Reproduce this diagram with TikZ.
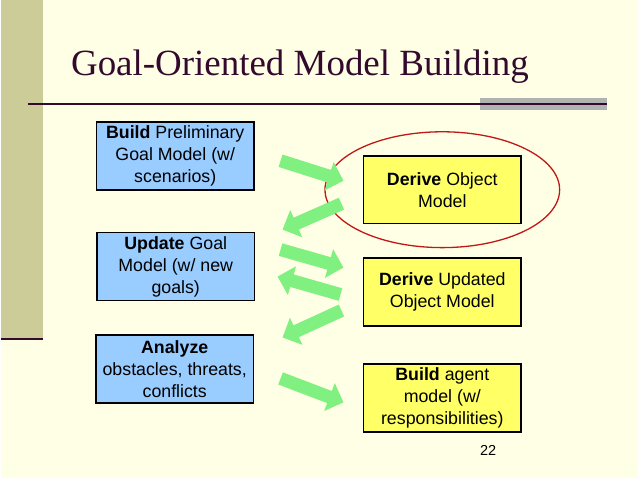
\documentclass[tikz,border=0pt]{standalone}
\usepackage{fontspec}
\setmainfont{Liberation Serif}
\setsansfont{Liberation Sans}
\usepackage{xcolor}
\usepackage{tikz}
\usetikzlibrary{arrows.meta, positioning}

\definecolor{slidebg}{HTML}{FFFFE5}
\definecolor{olivebar}{HTML}{CCCC99}
\definecolor{titlepurple}{HTML}{330A2E}
\definecolor{graybar}{HTML}{B2B2B2}
\definecolor{goalblue}{HTML}{99CCFF}
\definecolor{objyellow}{HTML}{FFFF66}
\definecolor{flowgreen}{HTML}{80F080}
\definecolor{ringred}{HTML}{C01818}

\begin{document}
\begin{tikzpicture}[
	x=1pt, y=-1pt,
	goalbox/.style={draw, rectangle, line width=1.6pt, minimum width=158pt, minimum height=68pt, align=center, fill=goalblue, font=\sffamily\fontsize{17.8}{22}\selectfont, inner sep=2pt},
	objbox/.style={goalbox, fill=objyellow},
	flow/.style={-{Triangle[length=15pt, width=29pt]}, line width=13pt, flowgreen}
]
	% slide background
	\fill[slidebg] (0,0) rectangle (638,479);
	\fill[olivebar] (0,0) rectangle (42,340);
	\draw[titlepurple, line width=2pt] (0,340) -- (42,340);
	\fill[graybar] (480,98) rectangle (607,110);
	\draw[titlepurple, line width=2pt] (27,104) -- (607,104);

	\node (title) [anchor=base west, text=titlepurple, font=\fontsize{37}{44}\selectfont, inner sep=0pt] at (70,76) {Goal-Oriented Model Building};

	% goal side
	\node (prelim) [goalbox] at (174.5,156) {\textbf{Build} Preliminary\\Goal Model (w/\\scenarios)};
	\node (update) [goalbox] at (175,267) {\textbf{Update} Goal\\Model (w/ new\\goals)};
	\node (analyze) [goalbox] at (174,369.5) {\textbf{Analyze}\\obstacles, threats,\\conflicts};

	% object side
	\node (object) [objbox] at (442,190) {\textbf{Derive} Object\\Model};
	\node (updobj) [objbox] at (442,292.5) {\textbf{Derive} Updated\\Object Model};
	\node (agent) [objbox] at (442,398.5) {\textbf{Build} agent\\model (w/\\responsibilities)};

	\draw[ringred, line width=1.3pt] (object.center) ellipse (117.5pt and 58pt);

	% green flow arrows
	\coordinate (f1a) at (280,161);
	\coordinate (f1b) at (343,181);
	\coordinate (f2a) at (341,204);
	\coordinate (f2b) at (282,230);
	\coordinate (f3a) at (280,250);
	\coordinate (f3b) at (343,268);
	\coordinate (f4a) at (340,295);
	\coordinate (f4b) at (277,277);
	\coordinate (f5a) at (341,311);
	\coordinate (f5b) at (282,338);
	\coordinate (f6a) at (280,379);
	\coordinate (f6b) at (343,403);
	\draw[flow] (f1a) -- (f1b);
	\draw[flow] (f2a) -- (f2b);
	\draw[flow] (f3a) -- (f3b);
	\draw[flow] (f4a) -- (f4b);
	\draw[flow] (f5a) -- (f5b);
	\draw[flow] (f6a) -- (f6b);

	\node (pagenum) [font=\sffamily\fontsize{14.5}{17}\selectfont] at (488,451) {22};

\end{tikzpicture}
\end{document}
